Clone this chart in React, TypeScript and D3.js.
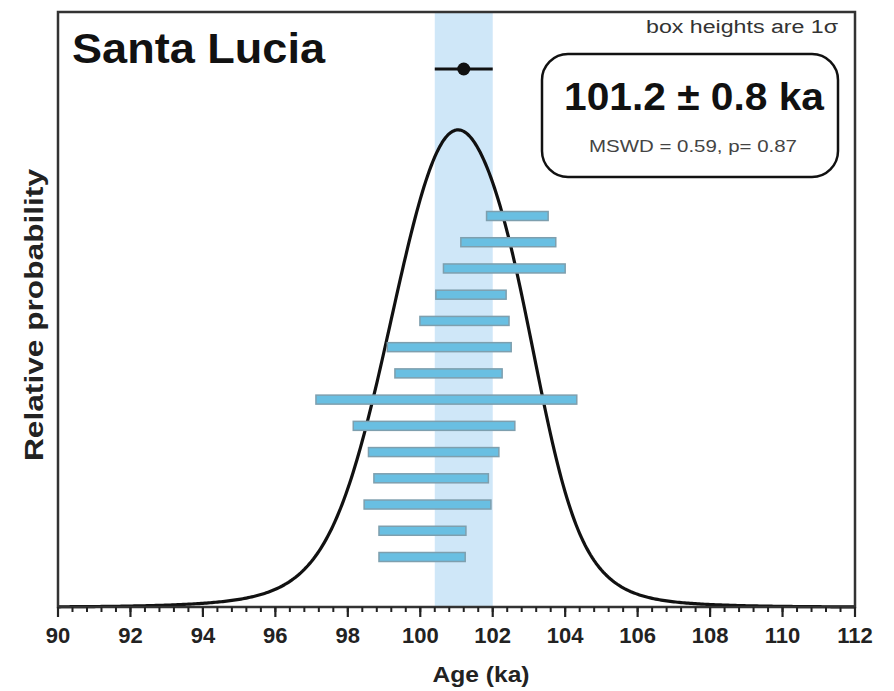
import React from 'react';
import * as d3 from 'd3';

// Individual dates (ka) with their 1σ uncertainties, listed top to bottom
const sampleAges = [102.68, 102.43, 102.32, 101.4, 101.22, 100.8, 100.78, 100.72, 100.38, 100.37, 100.3, 100.2, 100.06, 100.05];
const sampleSigmas = [0.85, 1.31, 1.68, 0.97, 1.23, 1.71, 1.48, 3.6, 2.23, 1.8, 1.58, 1.75, 1.2, 1.19];

// Weighted mean result
const weightedMean = 101.2;
const meanError = 0.8;
const mswd = 0.59;
const pValue = 0.87;

const siteName = 'Santa Lucia';
const xMajorTicks = [90, 92, 94, 96, 98, 100, 102, 104, 106, 108, 110, 112];
const xMinorStep = 0.4;

const W = 894;
const H = 691;
const frame = { left: 58, right: 855, top: 12, bottom: 607 };
const FONT = '"Liberation Sans", Arial, Helvetica, sans-serif';

export default function App() {
  const x = d3.scaleLinear().domain([90, 112]).range([frame.left, frame.right]);

  // Summed Gaussian probability density of all dates
  const grid = d3.range(90, 112.0001, 0.05);
  const density = grid.map((a) =>
    d3.sum(sampleAges, (c, i) => {
      const s = sampleSigmas[i];
      const z = (a - c) / s;
      return Math.exp(-0.5 * z * z) / s;
    })
  );
  const maxD = d3.max(density) as number;
  const y = d3.scaleLinear().domain([0, maxD * 1.247]).range([frame.bottom, frame.top]);

  const line = d3
    .line<number>()
    .x((_, i) => x(grid[i]))
    .y((d) => y(d))
    .curve(d3.curveLinear);

  const rowY = d3
    .scalePoint<number>()
    .domain(d3.range(sampleAges.length))
    .range([216, 557]);

  const minorTicks = d3.range(0, Math.round((112 - 90) / xMinorStep) + 1).map((i) => 90 + i * xMinorStep);

  const barH = 9;

  return (
    <svg
      width={W}
      height={H}
      style={{ position: 'absolute', left: 0, top: 0, background: '#fff' }}
      fontFamily={FONT}
    >
      {/* weighted mean uncertainty band */}
      <rect
        x={x(weightedMean - meanError)}
        y={frame.top}
        width={x(weightedMean + meanError) - x(weightedMean - meanError)}
        height={frame.bottom - frame.top}
        fill="#cfe7f8"
      />

      {/* probability density curve */}
      <path d={line(density) || ''} fill="none" stroke="#111" strokeWidth={3.2} strokeLinejoin="round" />

      {/* 1σ boxes */}
      {sampleAges.map((c, i) => (
        <rect
          key={i}
          x={x(c - sampleSigmas[i])}
          y={(rowY(i) as number) - barH / 2}
          width={x(c + sampleSigmas[i]) - x(c - sampleSigmas[i])}
          height={barH}
          fill="#69bfe2"
          stroke="#7e9fae"
          strokeWidth={1.5}
        />
      ))}

      {/* weighted mean marker */}
      <line
        x1={x(weightedMean - meanError)}
        x2={x(weightedMean + meanError)}
        y1={69}
        y2={69}
        stroke="#111"
        strokeWidth={3}
      />
      <circle cx={x(weightedMean)} cy={69} r={6.5} fill="#111" />

      {/* frame */}
      <rect
        x={frame.left}
        y={frame.top}
        width={frame.right - frame.left}
        height={frame.bottom - frame.top}
        fill="none"
        stroke="#333"
        strokeWidth={2.5}
      />

      {/* x axis ticks */}
      {minorTicks.map((t, i) => (
        <line key={'m' + i} x1={x(t)} x2={x(t)} y1={frame.bottom} y2={frame.bottom + 5} stroke="#222" strokeWidth={2} />
      ))}
      {xMajorTicks.map((t) => (
        <g key={t}>
          <line x1={x(t)} x2={x(t)} y1={frame.bottom} y2={frame.bottom + 10} stroke="#222" strokeWidth={2.2} />
          <text
            x={x(t)}
            y={643}
            textAnchor="middle"
            fontSize={22}
            fontWeight="bold"
            fill="#222"
          >
            {t}
          </text>
        </g>
      ))}

      {/* axis titles */}
      <text x={481} y={682} textAnchor="middle" fontSize={22} fontWeight="bold" fill="#222" textLength={97} lengthAdjust="spacingAndGlyphs">
        Age (ka)
      </text>
      <text
        transform="translate(43,315) rotate(-90)"
        textAnchor="middle"
        fontSize={26}
        fontWeight="bold"
        fill="#222"
        textLength={292}
        lengthAdjust="spacingAndGlyphs"
      >
        Relative probability
      </text>

      {/* site name */}
      <text x={72} y={63} fontSize={43} fontWeight="bold" fill="#111" textLength={253} lengthAdjust="spacingAndGlyphs">
        {siteName}
      </text>

      <text x={838} y={33} textAnchor="end" fontSize={18} fill="#333" textLength={192} lengthAdjust="spacingAndGlyphs">
        box heights are 1σ
      </text>

      {/* result box */}
      <rect x={542} y={54} width={296} height={123} rx={26} ry={26} fill="#fff" stroke="#111" strokeWidth={2.5} />
      <text x={694} y={110} textAnchor="middle" fontSize={38} fontWeight="bold" fill="#111" textLength={260} lengthAdjust="spacingAndGlyphs">
        {`${weightedMean.toFixed(1)} ± ${meanError.toFixed(1)} ka`}
      </text>
      <text x={693} y={152} textAnchor="middle" fontSize={16.5} fill="#444" textLength={208} lengthAdjust="spacingAndGlyphs">
        {`MSWD = ${mswd.toFixed(2)}, p= ${pValue.toFixed(2)}`}
      </text>
    </svg>
  );
}
